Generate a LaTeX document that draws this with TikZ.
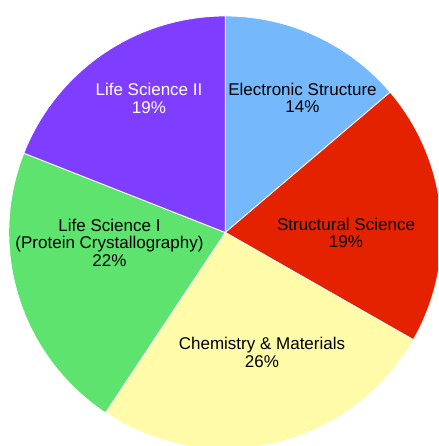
\documentclass[tikz,border=0pt]{standalone}
\usepackage{fontspec}
\setmainfont{Liberation Sans}
\usepackage{tikz}
\usetikzlibrary{calc}

\definecolor{esblue}{HTML}{75B9FC}
\definecolor{ssred}{HTML}{E52200}
\definecolor{cmyellow}{HTML}{FFFBA8}
\definecolor{lsgreen}{HTML}{5DE36E}
\definecolor{lspurple}{HTML}{7F3DFF}

\tikzset{
	slice/.style={draw=white,line width=0.8pt},
	lbl/.style={align=center,inner sep=0pt,font=\fontsize{17}{17.5}\selectfont}
}

\begin{document}
\begin{tikzpicture}[x=1pt,y=1pt]
\useasboundingbox (0,0) rectangle (438,446);
\clip (0,0) rectangle (438,446);
\coordinate (Origin) at (225.3,213.5);

% slices, clockwise from the top
\foreach \a/\b/\col in {90/40.4/esblue, 40.4/-29.7/ssred, -29.7/-123.6/cmyellow, -123.6/-201.5/lsgreen, -201.5/-270/lspurple}
	{
	\filldraw [slice,fill=\col] (Origin) -- +(\a:216.5)
		arc [start angle=\a, end angle=\b, radius=216.5] -- cycle;
	}

\node[lbl] (es) at (302.5,348) {Electronic Structure\\14\%};
\node[lbl] (ss) at (346,213) {Structural Science\\19\%};
\node[lbl] (cm) at (262,93.5) {Chemistry \& Materials\\26\%};
\node[lbl] (ls1) at (109.5,203.5) {Life Science I\\(Protein Crystallography)\\22\%};
\node[lbl,white] (ls2) at (149,347.5) {Life Science II\\19\%};
\end{tikzpicture}
\end{document}
